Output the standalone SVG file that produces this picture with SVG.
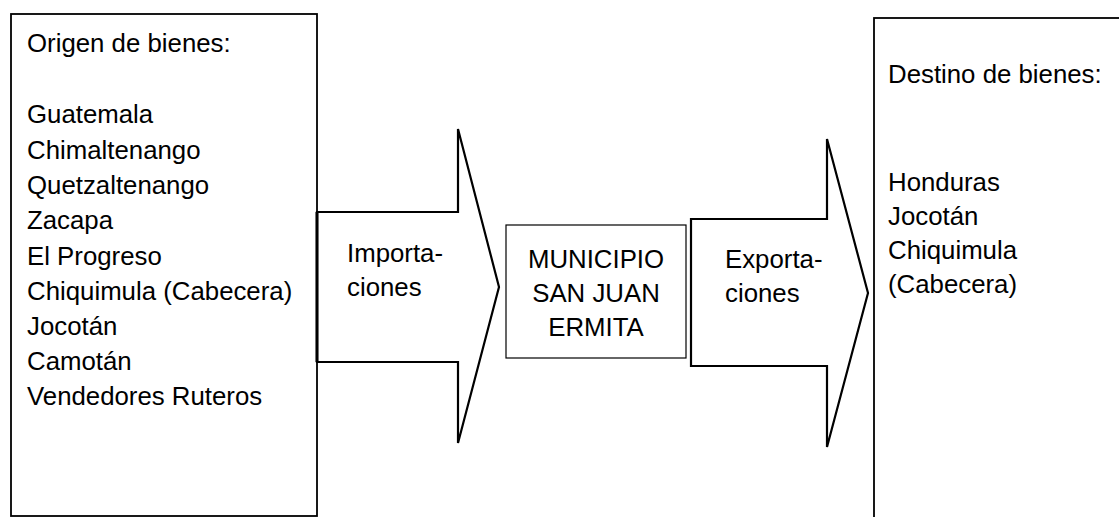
<svg xmlns="http://www.w3.org/2000/svg" width="1119" height="517" viewBox="0 0 1119 517">
<style>
text{font-family:"Liberation Sans",Arial,sans-serif;font-size:25.8px;fill:#000}
.box{fill:#fff;stroke:#000;stroke-width:1.8}
.thin{fill:#fff;stroke:#000;stroke-width:1.2}
.arrow{fill:#fff;stroke:#000;stroke-width:2.2;stroke-linejoin:miter}
.c{text-anchor:middle}
</style>
<rect width="1119" height="517" fill="#fff"/>
<g id="origen">
<rect class="box" x="11" y="14" width="306" height="502"/>
<text x="27" y="52">Origen de bienes:</text>
<text x="27" y="123">Guatemala</text>
<text x="27" y="158.5">Chimaltenango</text>
<text x="27" y="194">Quetzaltenango</text>
<text x="27" y="229">Zacapa</text>
<text x="27" y="264.5">El Progreso</text>
<text x="27" y="300">Chiquimula (Cabecera)</text>
<text x="27" y="335">Jocotán</text>
<text x="27" y="370">Camotán</text>
<text x="27" y="405">Vendedores Ruteros</text>
</g>
<g id="destino">
<rect class="box" x="874" y="18" width="260" height="520"/>
<text x="888" y="83">Destino de bienes:</text>
<text x="888" y="191">Honduras</text>
<text x="888" y="225">Jocotán</text>
<text x="888" y="259">Chiquimula</text>
<text x="888" y="293">(Cabecera)</text>
</g>
<g id="connectors">
<g id="importaciones">
<polygon class="arrow" points="317,212 458,212 458,129 499,287 458,443 458,362 317,362"/>
<line x1="317" y1="212" x2="317" y2="362" stroke="#000" stroke-width="3"/>
<text x="347" y="262">Importa-</text>
<text x="347" y="296">ciones</text>
</g>
<g id="exportaciones">
<polygon class="arrow" points="691,219 827,219 827,139 868,293 827,447 827,366 691,366"/>
<text x="725" y="268">Exporta-</text>
<text x="725" y="302">ciones</text>
</g>
</g>
<g id="municipio">
<rect class="thin" x="506" y="225" width="180" height="133"/>
<text class="c" x="596" y="268">MUNICIPIO</text>
<text class="c" x="596" y="302">SAN JUAN</text>
<text class="c" x="596" y="336">ERMITA</text>
</g>
</svg>
